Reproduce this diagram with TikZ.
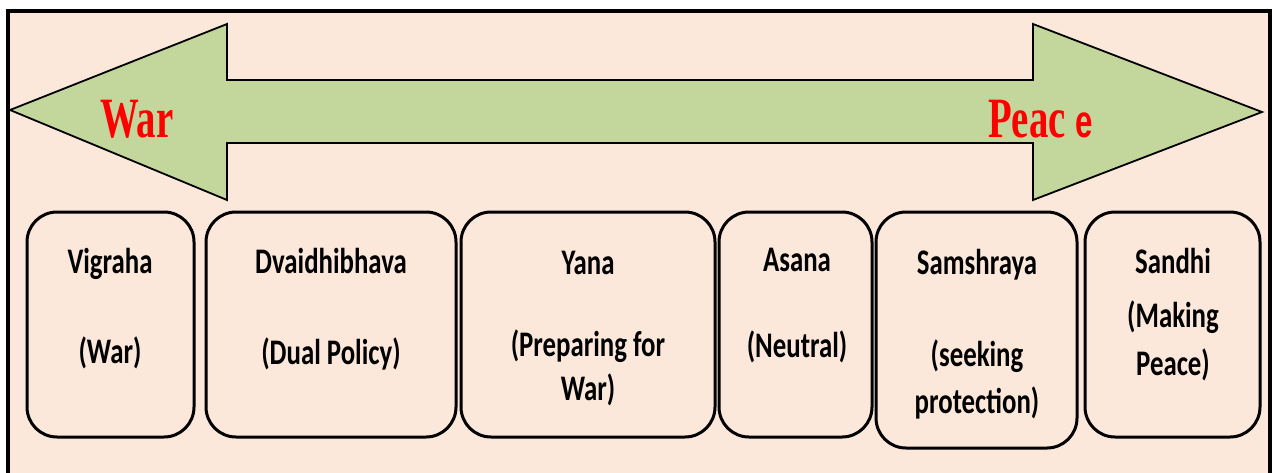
\documentclass[tikz,border=0pt]{standalone}
\usepackage{fontspec}
\newfontfamily\carlito{Carlito}
\newfontfamily\timesfont{Liberation Serif}
\newfontfamily\arialfont{Liberation Sans}
\definecolor{peach}{RGB}{252,232,218}
\definecolor{arrowgreen}{RGB}{195,214,155}
\definecolor{titlered}{RGB}{255,0,0}
\tikzset{
  stage/.style={draw=black, line width=3pt, rounded corners=30pt, fill=peach},
  stagetext/.style={font=\carlito\bfseries\fontsize{36}{40}\selectfont, xscale=0.745, anchor=base, inner sep=0pt},
  endtext/.style={text=titlered, font=\timesfont\bfseries\fontsize{57}{60}\selectfont, xscale=0.68, anchor=base west, inner sep=0pt},
}
\begin{document}
\begin{tikzpicture}[x=1pt,y=-1pt]
\useasboundingbox (0,0) rectangle (1273,472);
% background panel
\fill[white] (0,0) rectangle (1273,472);
\fill[peach] (8,11) rectangle (1270,480);
\draw[line width=3.5pt] (8,480) -- (8,11) -- (1270,11) -- (1270,480);
% double-headed arrow
\draw[fill=arrowgreen, line width=1.8pt, line join=miter]
  (10,110) -- (227,24) -- (227,80) -- (1033,80) -- (1033,24) -- (1262,112)
  -- (1033,200) -- (1033,143) -- (227,143) -- (227,200) -- cycle;
\node[endtext] (war) at (100,137) {War};
\node[endtext] (peace) at (988,137) {Peac {\arialfont\bfseries\fontsize{46}{50}\selectfont e}};
% stage boxes
\node[stage, minimum width=167pt, minimum height=225pt] (b1) at (110.5,324.5) {};
\node[stage, minimum width=250pt, minimum height=225pt] (b2) at (331,324.5) {};
\node[stage, minimum width=254pt, minimum height=225pt] (b3) at (588,324.5) {};
\node[stage, minimum width=153pt, minimum height=225pt] (b4) at (795.5,324.5) {};
\node[stage, minimum width=201pt, minimum height=236pt] (b5) at (976.5,330) {};
\node[stage, minimum width=175pt, minimum height=225pt] (b6) at (1172.5,324.5) {};
% stage labels
\node[stagetext] (t1a) at (110,273) {Vigraha};
\node[stagetext] (t1b) at (110,363) {(War)};
\node[stagetext] (t2a) at (331,273) {Dvaidhibhava};
\node[stagetext] (t2b) at (331,364) {(Dual Policy)};
\node[stagetext] (t3a) at (588,274) {Yana};
\node[stagetext] (t3b) at (588,356) {(Preparing for};
\node[stagetext] (t3c) at (588,400) {War)};
\node[stagetext] (t4a) at (797,271) {Asana};
\node[stagetext] (t4b) at (797,357) {(Neutral)};
\node[stagetext] (t5a) at (977,274) {Samshraya};
\node[stagetext] (t5b) at (977,366) {(seeking};
\node[stagetext] (t5c) at (977,413) {protection)};
\node[stagetext] (t6a) at (1173,273) {Sandhi};
\node[stagetext] (t6b) at (1173,327) {(Making};
\node[stagetext] (t6c) at (1173,375) {Peace)};
\end{tikzpicture}
\end{document}
